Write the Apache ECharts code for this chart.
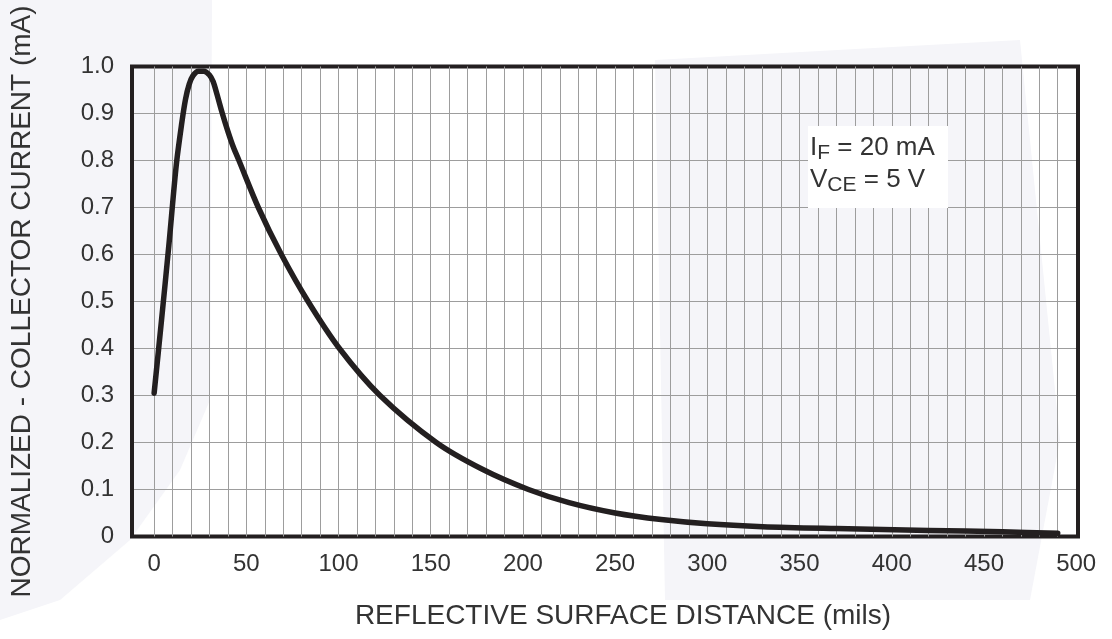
<!DOCTYPE html>
<html><head><meta charset="utf-8">
<script src="https://cdn.jsdelivr.net/npm/echarts@6/dist/echarts.min.js"></script>
<style>html,body{margin:0;padding:0;background:#fff}#c{width:1112px;height:639px}</style>
</head><body><div id="c"></div>
<script>
// Reflective surface distance (mils)
const distance = [0, 4, 8, 12, 15, 17, 19, 21, 24, 27, 30, 32, 34, 37, 40, 43, 46, 56.5, 69, 83.5, 100.5, 122.5, 153, 178, 203, 225, 250, 275, 300, 330, 370, 420, 460, 490];
// Normalized collector current
const current = [0.305, 0.46, 0.62, 0.79, 0.88, 0.93, 0.962, 0.98, 0.99, 0.99, 0.982, 0.968, 0.942, 0.90, 0.862, 0.828, 0.80, 0.70, 0.60, 0.50, 0.40, 0.30, 0.20, 0.143, 0.10, 0.072, 0.05, 0.036, 0.027, 0.021, 0.017, 0.013, 0.010, 0.007];
const xTickValues = [0, 50, 100, 150, 200, 250, 300, 350, 400, 450, 500];
const xGridLines = [0,10,20,30,40,50,60,70,80,90,100,110,120,130,140,150,160,170,180,190,200,210,220,230,240,250,260,270,280,290,300,310,320,330,340,350,360,370,380,390,400,410,420,430,440,450,460,470,480,490];
const yTickLabels = ['0','0.1','0.2','0.3','0.4','0.5','0.6','0.7','0.8','0.9','1.0'];
const xAxisName = 'REFLECTIVE SURFACE DISTANCE (mils)';
const yAxisName = 'NORMALIZED - COLLECTOR CURRENT (mA)';
const condLines = [['I','F',' = 20 mA'], ['V','CE',' = 5 V']];

const INK = '#231f20';
const TXT = '#333333';
const GRIDC = '#9d9d9d';
const FONT = '"Liberation Sans", Arial, Helvetica, sans-serif';

const chart = echarts.init(document.getElementById('c'), null, {renderer: 'canvas'});
const option = {
  animation: false,
  backgroundColor: '#ffffff',
  textStyle: {fontFamily: FONT},
  grid: {left: 132, right: 34, top: 66.5, bottom: 102.5, show: true, borderColor: INK, borderWidth: 4, backgroundColor: 'transparent', z: 3},
  graphic: {elements: [
    {type: 'polygon', z: -10, silent: true, shape: {points: [[0,0],[212,0],[210,400],[180,470],[130,540],[60,600],[0,620]]}, style: {fill: '#f5f5f9'}},
    {type: 'polygon', z: -10, silent: true, shape: {points: [[655,60],[1020,40],[1060,440],[1030,600],[665,600]]}, style: {fill: '#f5f5f9'}},
    {type: 'rect', z: 10, silent: true, shape: {x: 808, y: 126, width: 140, height: 82}, style: {fill: '#ffffff'}},
    {type: 'text', z: 11, silent: true, left: 810, top: 135,
      style: {
        text: condLines.map(l => '{a|' + l[0] + '}{s|' + l[1] + '}{a|' + l[2] + '}').join('\n'),
        fill: TXT, font: '26px ' + FONT,
        rich: {
          a: {fontSize: 26, lineHeight: 32, fill: TXT, fontFamily: FONT},
          s: {fontSize: 21, lineHeight: 14, verticalAlign: 'bottom', fill: TXT, fontFamily: FONT}
        }
      }}
  ]},
  xAxis: {
    type: 'value', min: -12, max: 501,
    name: xAxisName, nameLocation: 'middle', nameGap: 66,
    nameTextStyle: {fontSize: 28, color: TXT, fontFamily: FONT, padding: [0, 0, 0, 36]},
    axisLine: {show: false}, axisTick: {show: false}, splitLine: {show: false},
    axisLabel: {customValues: xTickValues, formatter: v => String(v), fontSize: 24, color: TXT, margin: 16, fontFamily: FONT}
  },
  yAxis: {
    type: 'value', min: 0, max: 1, interval: 0.1,
    name: yAxisName, nameLocation: 'middle', nameGap: 96,
    nameTextStyle: {fontSize: 28, color: TXT, fontFamily: FONT},
    axisLine: {show: false}, axisTick: {show: false},
    splitLine: {show: true, lineStyle: {color: GRIDC, width: 1}},
    axisLabel: {formatter: (v, i) => yTickLabels[Math.round(v * 10)], fontSize: 24, color: TXT, margin: 18, fontFamily: FONT}
  },
  series: [
    {type: 'line', data: [], z: 1, silent: true,
      markLine: {silent: true, symbol: ['none','none'], label: {show: false}, animation: false,
        lineStyle: {color: GRIDC, width: 1, type: 'solid'},
        data: xGridLines.map(v => ({xAxis: v}))}},
    {type: 'line', z: 5, data: distance.map((d, i) => [d, current[i]]),
      showSymbol: false, smooth: 0.3,
      lineStyle: {color: INK, width: 5.5, cap: 'round', join: 'round'}}
  ]
};
chart.setOption(option);
</script>
</body></html>
